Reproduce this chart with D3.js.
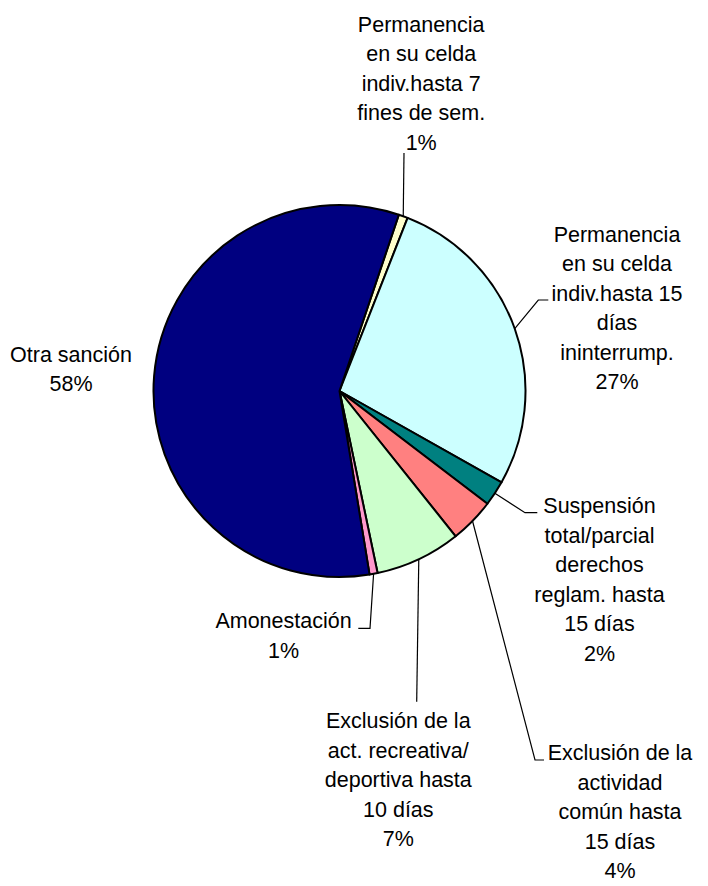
<!DOCTYPE html>
<html>
<head>
<meta charset="utf-8">
<script src="https://cdn.jsdelivr.net/npm/d3@7"></script>
<style>
  html, body { margin: 0; padding: 0; background: #fff; }
  svg { display: block; }
  text { font-family: "Liberation Sans", Arial, sans-serif; font-size: 21.5px; fill: #000; }
</style>
</head>
<body>
<svg id="chart" width="708" height="886"></svg>
<script>
// ---- Data (clockwise, starting from the small slice near the top) ----
const categories = [
  ["Permanencia", "en su celda", "indiv.hasta 7", "fines de sem."],
  ["Permanencia", "en su celda", "indiv.hasta 15", "días", "ininterrump."],
  ["Suspensión", "total/parcial", "derechos", "reglam. hasta", "15 días"],
  ["Exclusión de la", "actividad", "común hasta", "15 días"],
  ["Exclusión de la", "act. recreativa/", "deportiva hasta", "10 días"],
  ["Amonestación"],
  ["Otra sanción"]
];
const values = [0.8, 27.2, 2.2, 3.9, 7.45, 0.7, 57.75];
const colors = ["#FFFFCC", "#CCFFFF", "#008080", "#FF8080", "#CCFFCC", "#FF99CC", "#000080"];

// ---- Layout ----
const cx = 339.5, cy = 391, R = 186;
const startDeg = 18.6;
const lineH = 29.5;
// label anchors: [centerX, firstBaseline]
const labelPos = [
  [421.2, 31.7], [617, 241.7], [599.5, 513.3], [620, 760],
  [398.3, 728.3], [283.5, 628.3], [71, 361.7]
];
// leader line extra points after the slice edge point (null = no leader)
const leaderPts = [
  [[404, 153]],
  [[538.3, 300], [548.3, 300]],
  [[525, 512.7], [537.3, 512.7]],
  [[535, 760], [544, 760]],
  [[416.7, 701.7]],
  [[370, 628.3], [358.3, 628.3]],
  null
];

const svg = d3.select("#chart");
const g = svg.append("g").attr("transform", `translate(${cx},${cy})`);

const rad = d => d * Math.PI / 180;
const pie = d3.pie().sort(null).value(d => d)
  .startAngle(rad(startDeg)).endAngle(rad(startDeg) + 2 * Math.PI);
const arcs = pie(values);
const arc = d3.arc().innerRadius(0).outerRadius(R);

g.selectAll("path.slice").data(arcs).enter().append("path")
  .attr("class", "slice")
  .attr("d", arc)
  .attr("fill", (d, i) => colors[i])
  .attr("stroke", "#000")
  .attr("stroke-width", 2)
  .attr("stroke-linejoin", "round");

// leader lines
arcs.forEach((d, i) => {
  if (!leaderPts[i]) return;
  const mid = (d.startAngle + d.endAngle) / 2;
  const p0 = [cx + R * Math.sin(mid), cy - R * Math.cos(mid)];
  const pts = [p0].concat(leaderPts[i]);
  svg.append("path")
    .attr("d", d3.line()(pts))
    .attr("fill", "none")
    .attr("stroke", "#000")
    .attr("stroke-width", 1.2);
});

// labels
arcs.forEach((d, i) => {
  const lines = categories[i].concat([Math.round(values[i]) + "%"]);
  const t = svg.append("text")
    .attr("text-anchor", "middle")
    .attr("x", labelPos[i][0])
    .attr("y", labelPos[i][1]);
  lines.forEach((ln, k) => {
    t.append("tspan")
      .attr("x", labelPos[i][0])
      .attr("dy", k === 0 ? 0 : lineH)
      .text(ln);
  });
});
</script>
</body>
</html>
